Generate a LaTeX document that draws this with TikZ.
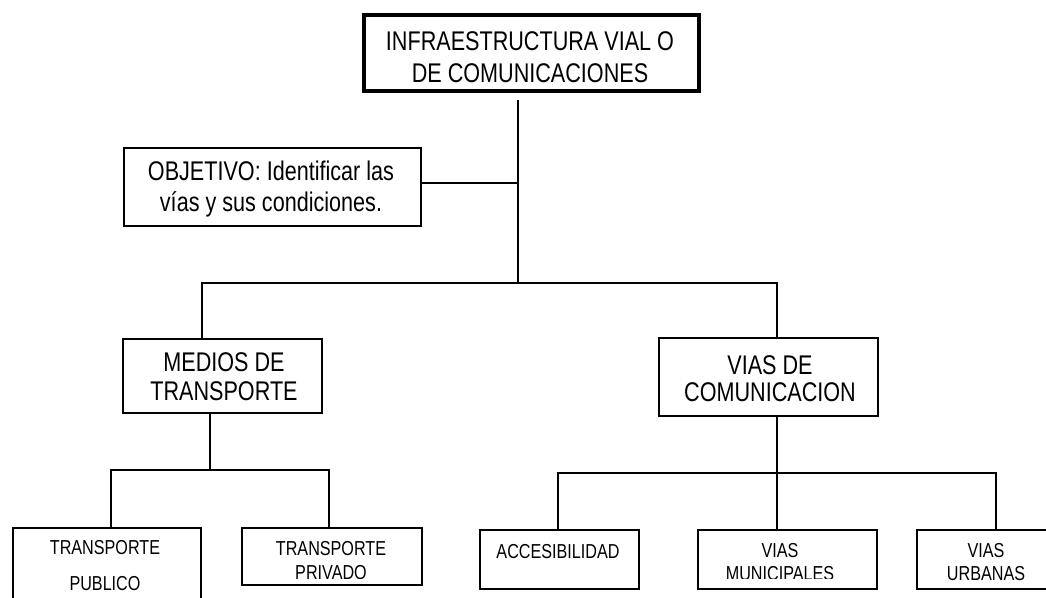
\documentclass[tikz,border=0pt]{standalone}
\usepackage{fontspec}
\setmainfont{Liberation Sans}[FakeStretch=0.80]
\begin{document}
\begin{tikzpicture}[x=1pt,y=-1pt,
  box/.style={draw,line width=1.8pt,inner sep=0pt,anchor=north west},
  big/.style={font=\fontsize{27}{32}\selectfont,align=center,inner sep=0pt,anchor=base},
  small/.style={font=\fontsize{20.2}{22}\selectfont,align=center,inner sep=0pt,anchor=base},
  con/.style={line width=1.5pt}]
\useasboundingbox[fill=white] (0,0) rectangle (1046,597);
% boxes
\node[box,line width=3.5pt,minimum width=335pt,minimum height=76pt] (top) at (362,13) {};
\node[box,minimum width=297pt,minimum height=78pt] (obj) at (123,147) {};
\node[box,minimum width=199pt,minimum height=74pt] (med) at (122,338) {};
\node[box,minimum width=219pt,minimum height=78pt] (via) at (658,337) {};
\node[box,minimum width=188pt,minimum height=100pt] (pub) at (12,527) {};
\node[box,minimum width=180pt,minimum height=57pt] (priv) at (241,527) {};
\node[box,minimum width=159pt,minimum height=59pt] (acc) at (479,529) {};
\node[box,minimum width=179pt,minimum height=59pt] (mun) at (697,529) {};
\node[box,minimum width=161pt,minimum height=59pt] (urb) at (916,529) {};
% texts
\node[big] (topt) at (530,82) {INFRAESTRUCTURA VIAL O\\DE COMUNICACIONES};
\node[big,font=\fontsize{27}{31}\selectfont] (objt) at (271,211) {OBJETIVO: Identificar las\\vías y sus condiciones.};
\node[big,font=\fontsize{27}{29}\selectfont] (medt) at (224,400) {MEDIOS DE\\TRANSPORTE};
\node[big,font=\fontsize{27}{27}\selectfont] (viat) at (770,401) {VIAS DE\\COMUNICACION};
\node[small,font=\fontsize{20.2}{36}\selectfont] (pubt) at (105,590.5) {TRANSPORTE\\PUBLICO};
\begin{scope}
\clip (241,527) rectangle (421,578);
\node[small,font=\fontsize{20.2}{24}\selectfont] (privt) at (331,579) {TRANSPORTE\\PRIVADO};
\end{scope}
\node[small] (acct) at (558,558) {ACCESIBILIDAD};
\begin{scope}
\clip (697,529) rectangle (876,578);
\node[small,font=\fontsize{20.2}{23}\selectfont] (munt) at (780,580) {VIAS\\MUNICIPALES};
\end{scope}
\node[small,font=\fontsize{20.2}{23}\selectfont] (urbt) at (986,580) {VIAS\\URBANAS};
% junction coordinates
\coordinate (j0) at (518,100);
\coordinate (jo) at (518,183);
\coordinate (j1) at (518,283);
\coordinate (bl) at (202,283);
\coordinate (br) at (777,283);
\coordinate (m0) at (210,470);
\coordinate (ml) at (111,470);
\coordinate (mr) at (329,470);
\coordinate (v0) at (777,473);
\coordinate (vl) at (558,473);
\coordinate (vr) at (996,473);
% connectors
\draw[con] (j0) -- (j1);
\draw[con] (obj.east |- jo) -- (jo);
\draw[con] (bl |- med.north) -- (bl) -- (br) -- (br |- via.north);
\draw[con] (m0 |- med.south) -- (m0);
\draw[con] (ml |- pub.north) -- (ml) -- (mr) -- (mr |- priv.north);
\draw[con] (v0 |- via.south) -- (v0);
\draw[con] (vl |- acc.north) -- (vl) -- (vr) -- (vr |- urb.north);
\draw[con] (v0) -- (v0 |- mun.north);
\end{tikzpicture}
\end{document}
